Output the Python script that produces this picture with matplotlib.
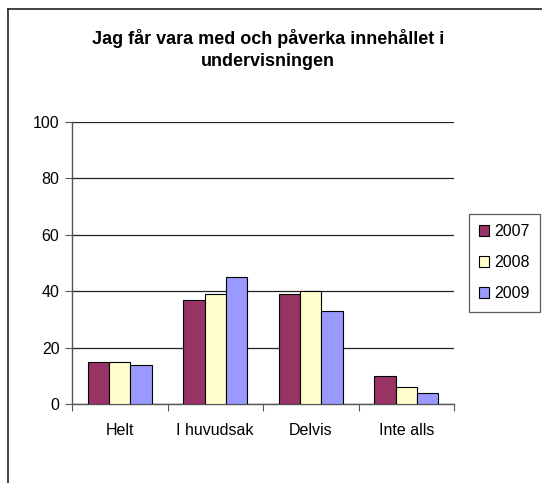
import numpy as np
import matplotlib.pyplot as plt
from matplotlib.lines import Line2D

plt.rcParams['font.family'] = ['Liberation Sans', 'DejaVu Sans']

# svar per kategori och år (procent)
categories = ['Helt', 'I huvudsak', 'Delvis', 'Inte alls']
years = ['2007', '2008', '2009']
vals_2007 = [15, 37, 39, 10]
vals_2008 = [15, 39, 40, 6]
vals_2009 = [14, 45, 33, 4]
colors = ['#993366', '#FFFFCC', '#9999FF']

W, H = 542, 483
fig = plt.figure(figsize=(W / 100, H / 100), dpi=100)
ax = fig.add_axes([72 / W, 1 - 404 / H, 382 / W, 282 / H])

x = np.arange(len(categories))
bw = 0.222
for i, (v, c, lab) in enumerate(zip([vals_2007, vals_2008, vals_2009], colors, years)):
    ax.bar(x + (i - 1) * bw, v, bw, color=c, edgecolor='black', linewidth=0.8,
           label=lab, zorder=3)

ax.set_xlim(-0.5, len(categories) - 0.5)
ax.set_ylim(0, 100)
ax.set_yticks(np.arange(0, 101, 20))
ax.yaxis.grid(True, color='#222222', linewidth=0.9, zorder=0)
ax.set_axisbelow(True)

# kategorietiketter mitt i varje grupp, streck mellan grupperna
ax.set_xticks(np.arange(-0.5, len(categories)), minor=False)
ax.set_xticklabels([])
ax.set_xticks(x, minor=True)
ax.set_xticklabels(categories, minor=True, fontsize=11.5)
ax.tick_params(axis='x', which='minor', length=0, pad=14)
ax.tick_params(axis='x', which='major', length=5, color='#555555', direction='out')
ax.tick_params(axis='y', length=5, color='#555555', labelsize=11.5, pad=4)

for s in ['top', 'right']:
    ax.spines[s].set_visible(False)
for s in ['left', 'bottom']:
    ax.spines[s].set_color('#555555')
    ax.spines[s].set_linewidth(1.0)

fig.text(268 / W, 1 - 38 / H, 'Jag får vara med och påverka innehållet i',
         ha='center', va='center', fontsize=13, fontweight='bold')
fig.text(268 / W, 1 - 61 / H, 'undervisningen',
         ha='center', va='center', fontsize=13, fontweight='bold')

leg = fig.legend(loc='upper right', bbox_to_anchor=(540 / W, 1 - 214 / H),
                 fontsize=11.5, frameon=True, fancybox=False, handlelength=0.65,
                 handleheight=0.65, handletextpad=0.3, labelspacing=1.0,
                 borderpad=0.65, borderaxespad=0)
leg.get_frame().set_edgecolor('#333333')
leg.get_frame().set_linewidth(0.9)
leg._legend_box.align = 'left'
for t in leg.get_texts():
    t.set_x(0)

# ram runt diagrammet
fig.add_artist(Line2D([8 / W, 1], [1 - 9 / H, 1 - 9 / H], color='#222222', linewidth=1.2))
fig.add_artist(Line2D([8 / W, 8 / W], [0, 1 - 9 / H], color='#222222', linewidth=1.2))

fig.savefig('out.png', dpi=100)
